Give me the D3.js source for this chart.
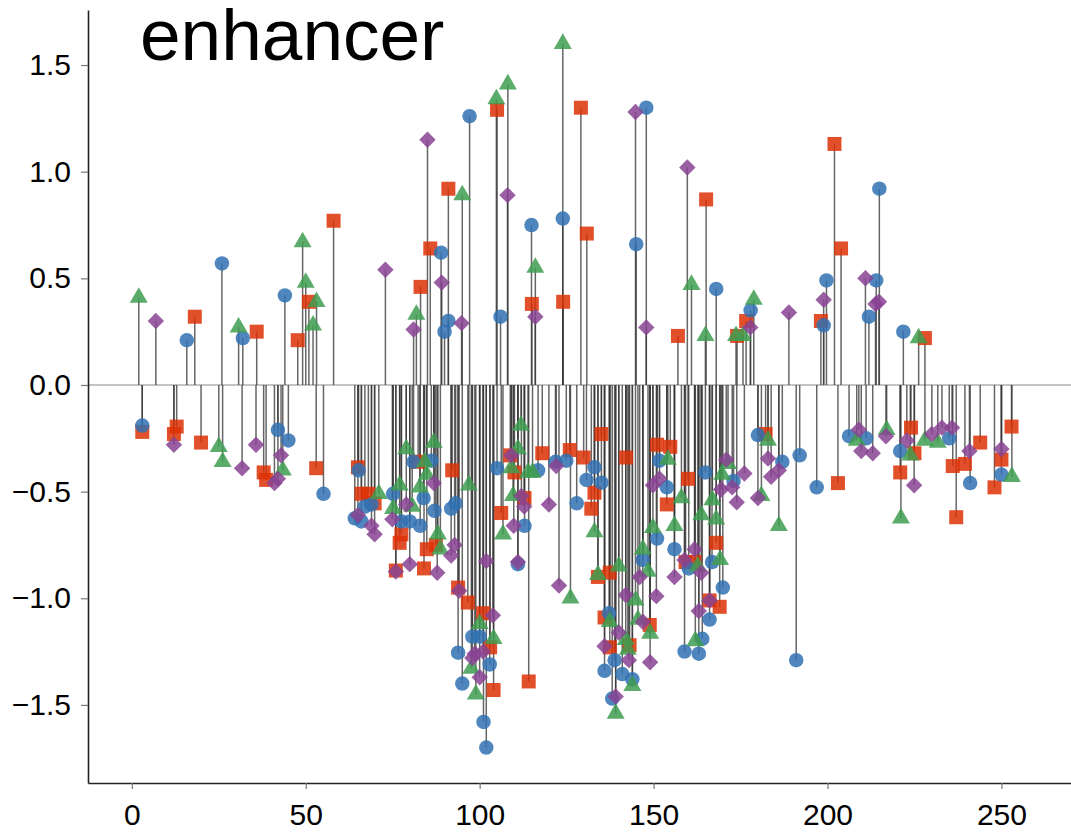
<!DOCTYPE html>
<html>
<head>
<meta charset="utf-8">
<script src="https://cdn.jsdelivr.net/npm/d3@7"></script>
<style>
  body { margin: 0; background: #fff; }
  svg { display: block; font-family: "Liberation Sans", Arial, sans-serif; }
</style>
</head>
<body>
<div id="chart"></div>
<script>
const TITLE = "enhancer";
const xTicks = [0, 50, 100, 150, 200, 250];
const yTicks = [-1.5, -1.0, -0.5, 0.0, 0.5, 1.0, 1.5];

const blueX = [3, 15.8, 25.9, 31.9, 42, 44, 45, 55.1, 64.1, 65.2, 66, 67, 68.9, 75.1, 77.5, 79.9, 81, 82.9, 83.9, 86.1, 87, 88.9, 89.9, 91, 91.8, 93.1, 93.8, 95, 97.1, 97.9, 100, 101.1, 101.9, 102.9, 105, 106, 111, 112.9, 114.9, 116.8, 121.8, 123.9, 124.9, 127.9, 130.7, 133, 135, 135.9, 137.2, 138.1, 138.8, 141, 143.9, 145, 146.9, 147.9, 151, 151.7, 153.8, 156, 158.9, 160.1, 163, 164, 164.9, 166.1, 166.8, 168, 169.9, 173, 177.9, 180, 187, 191, 192, 196.9, 198.9, 199.7, 206.2, 211.1, 211.9, 214, 214.9, 220.9, 221.8, 235, 241, 250];
const blueY = [-0.19, 0.21, 0.57, 0.22, -0.21, 0.42, -0.26, -0.51, -0.625, -0.40, -0.64, -0.57, -0.56, -0.51, -0.64, -0.64, -0.36, -0.66, -0.53, -0.355, -0.59, 0.62, 0.25, 0.30, -0.58, -0.555, -1.255, -1.40, 1.26, -1.18, -1.18, -1.58, -1.70, -1.31, -0.39, 0.32, -0.84, -0.66, 0.75, -0.40, -0.36, 0.78, -0.355, -0.555, -0.445, -0.386, -0.458, -1.34, -1.07, -1.47, -1.29, -1.355, -1.38, 0.66, -0.82, 1.30, -0.72, -0.355, -0.48, -0.77, -1.25, -0.86, -1.26, -1.19, -0.41, -1.10, -0.83, 0.45, -0.95, -0.45, 0.35, -0.235, -0.36, -1.29, -0.33, -0.48, 0.28, 0.49, -0.24, -0.25, 0.32, 0.49, 0.92, -0.31, 0.25, -0.25, -0.46, -0.42];

const redX = [3, 12.1, 12.9, 18.1, 19.9, 35.9, 37.9, 38.6, 47.7, 50.9, 53, 58, 65, 66, 68, 69.8, 75.9, 77, 77.5, 82.3, 83, 84, 84.8, 85.8, 87.4, 91, 92.1, 93.8, 96.6, 101, 103, 104, 105, 106.2, 108.8, 110, 112.9, 114.1, 115, 118, 124, 125.9, 129.1, 129.9, 130.8, 132.1, 133, 134, 135, 135.9, 137.4, 137.4, 142.1, 143.1, 148.9, 151, 153.8, 154.8, 157, 159.2, 159.9, 161.8, 165.1, 166.1, 168, 169, 174, 176.6, 182.2, 198.1, 202, 203, 203.9, 220.9, 224, 225, 228, 236, 237, 239.5, 243.9, 248, 250, 252.9];
const redY = [-0.22, -0.23, -0.195, 0.32, -0.27, 0.25, -0.41, -0.445, 0.21, 0.39, -0.39, 0.77, -0.386, -0.51, -0.51, -0.555, -0.87, -0.74, -0.70, -0.36, 0.46, -0.86, -0.77, 0.64, -0.75, 0.92, -0.40, -0.95, -1.02, -1.07, -1.23, -1.43, 1.29, -0.60, -0.33, -0.41, -0.53, -1.39, 0.38, -0.32, 0.39, -0.305, 1.30, -0.34, 0.71, -0.58, -0.505, -0.90, -0.23, -1.09, -0.88, -1.23, -0.34, -1.22, -1.125, -0.28, -0.56, -0.29, 0.23, -0.83, -0.44, -0.83, 0.87, -1.01, -0.74, -1.04, 0.23, 0.30, -0.23, 0.30, 1.13, -0.46, 0.64, -0.41, -0.20, -0.32, 0.22, -0.38, -0.62, -0.37, -0.27, -0.48, -0.35, -0.195];

const greenX = [2, 25, 26.1, 30.7, 43.4, 49.1, 50, 52.1, 53.1, 71, 75.1, 77, 78.9, 80.6, 81.8, 82.8, 84.2, 84.8, 86.8, 88, 88.7, 95, 96.9, 97.6, 98.9, 100, 104, 104.8, 106.7, 108.1, 109.1, 109.6, 111, 111.9, 113.9, 115.2, 116, 123.9, 126.1, 133, 134, 137.4, 139.1, 140, 142, 142.6, 143.9, 144.8, 145.5, 146.9, 148.4, 149, 149.8, 154.1, 156, 158, 160.9, 162, 162.7, 163.7, 164.9, 166.9, 168, 169.1, 169.7, 171.4, 173.7, 175.7, 178.8, 181, 182.9, 186, 208.4, 217, 221.1, 223.8, 226.2, 228, 231.7, 253];
const greenY = [0.41, -0.29, -0.36, 0.27, -0.40, 0.67, 0.48, 0.28, 0.39, -0.51, -0.58, -0.47, -0.30, -0.57, 0.33, -0.48, -0.36, -0.42, -0.27, -0.70, -0.77, 0.89, -0.47, -1.33, -1.45, -1.12, -1.19, 1.34, -0.70, 1.41, -0.39, -0.52, -0.30, -0.19, -0.41, -0.41, 0.55, 1.60, -1.00, -0.69, -0.89, -1.11, -1.54, -0.85, -1.195, -1.24, -1.41, -1.01, -1.10, -0.77, -0.875, -1.165, -0.67, -0.35, -0.66, -0.53, 0.47, -1.20, -0.85, -0.61, 0.23, -0.54, -0.63, -0.82, -0.42, -0.37, 0.23, 0.23, 0.40, -0.52, -0.26, -0.66, -0.26, -0.21, -0.625, -0.33, 0.22, -0.26, -0.27, -0.43];

const purpleX = [6.9, 12.1, 31.7, 35.7, 41, 42, 42.9, 65, 68.9, 69.8, 72.9, 74.9, 75.9, 78.9, 79.9, 81, 85, 86.8, 87.8, 89.1, 91.8, 92.8, 94.1, 94.8, 97.9, 98.6, 100, 101, 101.9, 103.8, 108, 109.1, 109.8, 111, 112, 112.8, 116, 119.9, 122, 122.8, 135.9, 139.1, 140, 142, 142.9, 144.8, 146, 146.9, 147.9, 149, 149.8, 150.8, 151.7, 156, 158.9, 159.7, 161.8, 163, 163.7, 166.1, 169.4, 170.9, 172.6, 173.9, 176.1, 177.8, 180, 182.9, 183.8, 186, 188.9, 198.9, 209, 209.7, 210.9, 213, 213.8, 214.8, 216.8, 222.8, 224.9, 230, 232.9, 235.8, 240.8, 250];
const purpleY = [0.30, -0.28, -0.39, -0.28, -0.46, -0.44, -0.33, -0.61, -0.66, -0.70, 0.54, -0.63, -0.875, -0.56, -0.84, 0.26, 1.15, -0.46, -0.88, 0.48, -0.80, -0.75, -0.965, 0.29, -1.28, -1.26, -1.37, -1.25, -0.825, -1.08, 0.89, -0.33, -0.66, -0.83, -0.52, -0.57, 0.32, -0.56, -0.38, -0.94, -1.225, -1.46, -1.16, -0.985, -1.29, 1.28, -0.90, -1.11, 0.27, -1.30, -0.47, -0.99, -0.44, -0.90, -0.82, 1.02, -0.77, -1.06, -0.88, -1.01, -0.49, -0.35, -0.48, -0.55, -0.415, 0.27, -0.53, -0.345, -0.43, -0.40, 0.34, 0.40, -0.21, -0.31, 0.50, -0.32, 0.38, 0.39, -0.24, -0.26, -0.47, -0.23, -0.20, -0.20, -0.31, -0.30];

const SERIES = [
  { name: "red", xs: redX, ys: redY, color: "#dd3106", symbol: d3.symbolSquare, size: 196, rotate: 0 },
  { name: "blue", xs: blueX, ys: blueY, color: "#3071b1", symbol: d3.symbolCircle, size: 165, rotate: 0 },
  { name: "green", xs: greenX, ys: greenY, color: "#3e9c50", symbol: d3.symbolTriangle, size: 140, rotate: 0 },
  { name: "purple", xs: purpleX, ys: purpleY, color: "#884393", symbol: d3.symbolSquare, size: 135, rotate: 45 }
];

class StemChart {
  constructor(containerId, width, height) {
    this.width = width;
    this.height = height;
    this.svg = d3.select(containerId)
      .append("svg")
      .attr("width", width)
      .attr("height", height);
    this.left = 88;
    this.bottom = 783;
  }

  buildScales() {
    this.x = d3.scaleLinear().domain([-12.6, 270]).range([this.left, this.width]);
    this.y = d3.scaleLinear().domain([-1.866, 1.758]).range([this.bottom, 10]);
    return this;
  }

  buildAxes() {
    const yAxis = this.svg.append("g")
      .attr("transform", `translate(${this.left},0)`)
      .call(d3.axisLeft(this.y).tickValues(yTicks).tickFormat(d3.format(".1f"))
        .tickSize(7).tickSizeOuter(0).tickPadding(10));
    const xAxis = this.svg.append("g")
      .attr("transform", `translate(0,${this.bottom})`)
      .call(d3.axisBottom(this.x).tickValues(xTicks).tickFormat(d3.format("d"))
        .tickSize(6).tickSizeOuter(0).tickPadding(12));
    [xAxis, yAxis].forEach((g) => {
      g.select(".domain").attr("stroke", "#222").attr("stroke-width", 1.6);
      g.selectAll(".tick line").attr("stroke", "#777").attr("stroke-width", 1.2);
      g.selectAll(".tick text")
        .attr("fill", "#000")
        .style("font-size", "30px")
        .style("font-family", "'Liberation Sans', Arial, sans-serif");
    });
    xAxis.selectAll(".tick text").attr("dy", "0.8em");
    return this;
  }

  buildStems() {
    this.svg.append("line")
      .attr("x1", this.left)
      .attr("x2", this.width)
      .attr("y1", this.y(0))
      .attr("y2", this.y(0))
      .attr("stroke", "#c4c4c4")
      .attr("stroke-width", 2.2);

    const points = SERIES.flatMap((s) => d3.zip(s.xs, s.ys));
    this.svg.append("g")
      .selectAll("line")
      .data(points)
      .enter()
      .append("line")
      .attr("x1", (d) => this.x(d[0]))
      .attr("x2", (d) => this.x(d[0]))
      .attr("y1", this.y(0))
      .attr("y2", (d) => this.y(d[1]))
      .attr("stroke", "#333")
      .attr("stroke-opacity", 0.75)
      .attr("stroke-width", 1.5);
    return this;
  }

  buildMarkers() {
    SERIES.forEach((s) => {
      const path = d3.symbol().type(s.symbol).size(s.size)();
      this.svg.append("g")
        .attr("class", "series-" + s.name)
        .selectAll("path")
        .data(d3.zip(s.xs, s.ys))
        .enter()
        .append("path")
        .attr("d", path)
        .attr("transform", (d) => `translate(${this.x(d[0])},${this.y(d[1])}) rotate(${s.rotate})`)
        .attr("fill", s.color)
        .attr("fill-opacity", 0.85);
    });
    return this;
  }

  buildTitle() {
    this.svg.append("text")
      .attr("x", 140)
      .attr("y", 60)
      .style("font-size", "73px")
      .style("font-family", "'Liberation Sans', Arial, sans-serif")
      .attr("fill", "#000")
      .text(TITLE);
    return this;
  }
}

new StemChart("#chart", 1071, 834)
  .buildScales()
  .buildStems()
  .buildAxes()
  .buildMarkers()
  .buildTitle();
</script>
</body>
</html>
